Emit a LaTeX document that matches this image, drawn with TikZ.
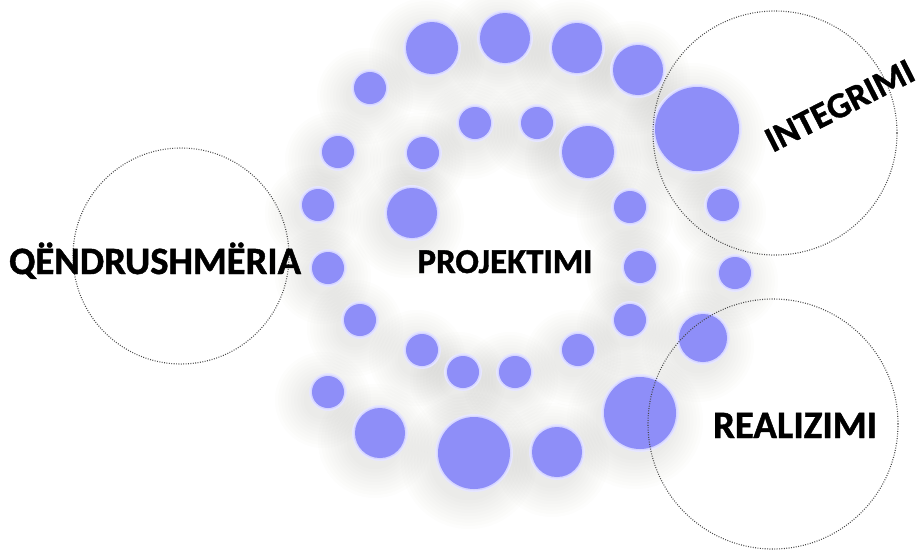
\documentclass[tikz,border=0pt]{standalone}
\usepackage{fontspec}
\setmainfont{Carlito}
\newfontfamily\capfont{Carlito Bold}[FakeBold=1.2]
\definecolor{dotblue}{RGB}{142,142,248}
\definecolor{dotrim}{RGB}{214,214,255}
\definecolor{haze}{RGB}{110,110,80}
\tikzset{
  dot/.style={circle, fill=dotblue, inner sep=0pt, outer sep=0pt},
  ring/.style={circle, draw=black!72, line width=1.1pt,
               dash pattern=on 0.9pt off 1.5pt, inner sep=0pt},
  word/.style={font=\capfont, text=black, inner sep=0pt, anchor=base}
}
% heavy caption scaled to a given width
\newcommand\capword[2]{\resizebox{#1}{!}{\fontsize{30}{30}\selectfont #2}}
\begin{document}
\begin{tikzpicture}[x=1pt, y=-1pt]
  \useasboundingbox (0,0) rectangle (920,552);
  \fill[white] (0,0) rectangle (920,552);

  % spiral of dots: x / y / radius
  \def\dotlist{370/88/16, 338/152/16, 318/205/16, 328/268/16, 360/320/16,
    328/392/16, 380/433/25, 474/453/36, 557/452/25, 640/413/36,
    703/338/24, 735/273/16, 723/205/16, 697/129/42, 638/70/25,
    577/48/25, 505/38/25, 432/48/26,
    475/123/16, 537/123/16, 588/152/26, 630/207/16, 640/267/16,
    630/320/16, 578/350/16, 515/372/16, 463/372/16, 422/350/16,
    412/213/25, 423/153/16}

  % soft, wide warm-grey shadows under the dots
  \foreach \x/\y/\r in \dotlist {
    \foreach \k in {1,...,10}
      \fill[haze, opacity=0.013] (\x-5,\y+8) circle[radius=\r+3.2*\k];
  }
  % lavender glow around each dot
  \foreach \x/\y/\r in \dotlist {
    \fill[dotrim!60!white] (\x,\y) circle[radius=\r+3];
    \fill[dotrim] (\x,\y) circle[radius=\r+1.5];
  }
  % the dots
  \foreach \x/\y/\r [count=\i] in \dotlist {
    \pgfmathsetmacro\dd{2*\r}
    \node[dot, minimum size=\dd pt] (d\i) at (\x,\y) {};
  }

  % dotted rings
  \node[ring, minimum size=216pt] (ringQ) at (181,256) {};
  \node[ring, minimum size=244pt] (ringI) at (775,133) {};
  \node[ring, minimum size=250pt] (ringR) at (773,424) {};

  % captions
  \node[word] (q) at (155,274) {\capword{292pt}{QËNDRUSHMËRIA}};
  \node[word] (p) at (505,273) {\capword{175pt}{PROJEKTIMI}};
  \node[word] (r) at (795,438) {\capword{164pt}{REALIZIMI}};
  \node[word, rotate=27] (i) at (845,116) {\capword{162pt}{INTEGRIMI}};
\end{tikzpicture}
\end{document}
